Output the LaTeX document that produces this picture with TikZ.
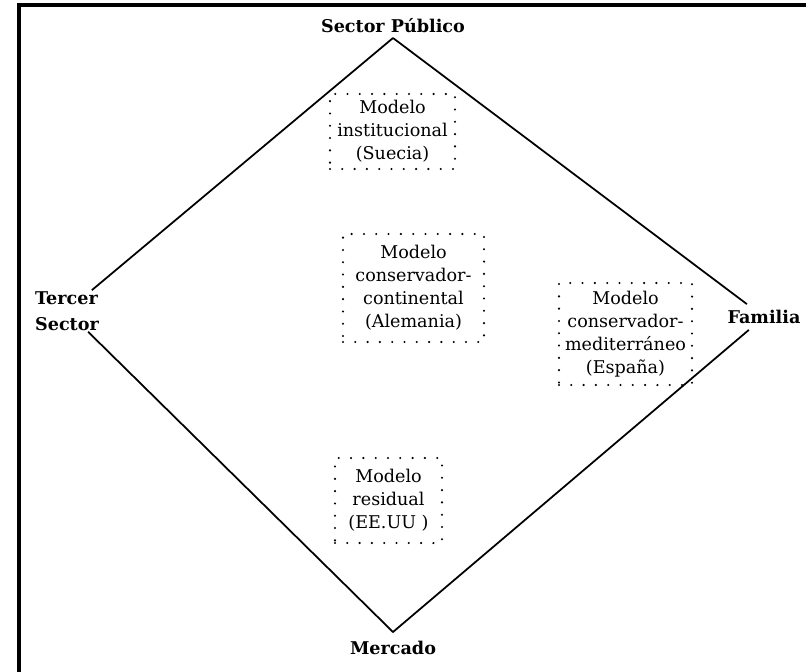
\documentclass[tikz,border=0pt]{standalone}
\usepackage{fontspec}
\setmainfont{DejaVu Serif}
\usetikzlibrary{positioning}
\tikzset{
	vertice/.style={font=\fontsize{15}{22}\selectfont\bfseries, inner sep=3pt},
	modelo/.style={draw, line width=2pt, line cap=round, dash pattern=on 0pt off 10.5pt,
		align=center, inner sep=0pt, font=\fontsize{15}{19.6}\selectfont},
	lado/.style={line width=1.5pt}
}

\begin{document}
\begin{tikzpicture}[x=0.03cm, y=-0.03cm, line join=miter]

	\useasboundingbox (0,0) rectangle (806,672);

	% marco
	\draw[line width=2.6pt] (806,5) -- (19,5) -- (19,672);

	\coordinate (arriba) at (393,38);
	\coordinate (abajo) at (393,632);

	\node[vertice, above=1pt of arriba] (publico) {Sector Público};
	\node[vertice, below=5pt of abajo] (mercado) {Mercado};
	\node[vertice, align=left, inner sep=1pt] (tercer) at (67,311) {Tercer\\Sector};
	\node[vertice, inner sep=5pt] (familia) at (764,317) {Familia};

	\draw[lado] (arriba) -- (tercer) -- (abajo) -- (familia) -- (arriba);

	\node[modelo, minimum width=3.75cm, minimum height=2.25cm] (suecia) at (392.5,131.5)
		{Modelo\\institucional\\(Suecia)};
	\node[modelo, minimum width=4.23cm, minimum height=3.24cm] (alemania) at (413.5,288)
		{Modelo\\conservador-\\continental\\(Alemania)};
	\node[modelo, minimum width=3.99cm, minimum height=3.06cm] (espana) at (625.5,334)
		{Modelo\\conservador-\\mediterráneo\\(España)};
	\node[modelo, minimum width=3.21cm, minimum height=2.55cm] (eeuu) at (388.5,500.5)
		{Modelo\\residual\\(EE.UU )};

\end{tikzpicture}
\end{document}
